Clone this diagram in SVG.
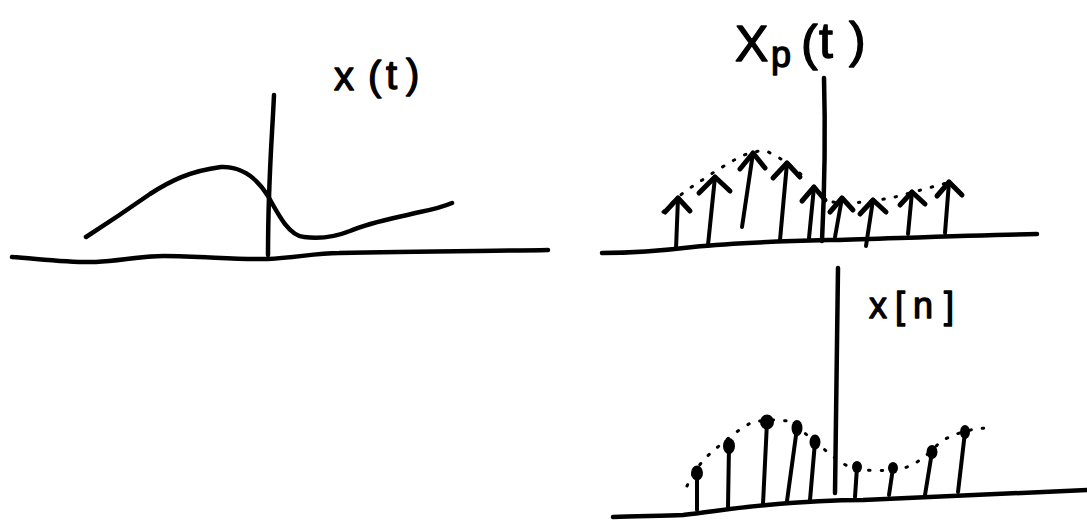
<svg xmlns="http://www.w3.org/2000/svg" width="1087" height="520" viewBox="0 0 1087 520">
<style>
.ink{fill:none;stroke:#000;stroke-linecap:round;stroke-linejoin:round}
.axis{stroke-width:4.5}
.sig{stroke-width:4.5}
.stem{stroke-width:4}
.head{stroke-width:5}
.env{stroke-width:3;stroke-dasharray:1.5 11}
.lbl{font-family:"Liberation Sans",Arial,sans-serif;fill:#000;stroke:#000;stroke-width:1.3;stroke-linejoin:round}
.blob{fill:#000}
</style>
<rect width="1087" height="520" fill="#fff"/>

<g id="continuous">
  <path class="ink axis" d="M12,257 C40,259 70,263 96,262 C120,261 140,256 164,256 C200,256 240,260 268,259 C295,258 315,253 339,253 C420,251 500,251 548,250"/>
  <path class="ink axis" d="M274,95 C272,140 268,180 268,255"/>
  <path class="ink sig" d="M86,237 C100,228 130,208 150,194 C170,181 190,171 221,167 C238,166 255,175 268,196 C280,218 290,236 304,237 C320,239 335,237 350,231 C370,222 395,218 420,212 C435,209 445,206 452,203"/>
  <text class="lbl" font-size="40"><tspan x="334" y="90">x</tspan><tspan x="368" y="90">(</tspan><tspan x="386" y="89">t</tspan><tspan x="406" y="88">)</tspan></text>
</g>

<g id="impulse-train">
  <path class="ink axis" d="M602,253 C630,253 660,251 693,247 C740,242 790,241 833,240 C900,238 980,235 1037,234"/>
  <path class="ink axis" d="M824,78 C826,150 824,200 822,241"/>
  <path class="ink env" d="M663,212 C675,200 685,190 695,185 C705,178 720,168 731,162 C742,155 755,150 766,151 C780,157 795,168 807,180"/>
  <path class="ink env" d="M833,202 C845,203 855,203 863,202 C875,201 885,199 895,197 C910,193 925,189 950,182"/>
  <g class="ink">
    <line class="stem" x1="676" y1="249" x2="678" y2="198"/>
    <polyline class="head" points="665,212 678,198 690,211"/>
    <line class="stem" x1="708" y1="245" x2="715" y2="177"/>
    <polyline class="head" points="699,193 715,177 730,191"/>
    <line class="stem" x1="742" y1="227" x2="753" y2="153"/>
    <polyline class="head" points="740,169 753,153 765,168"/>
    <line class="stem" x1="780" y1="240" x2="787" y2="163"/>
    <polyline class="head" points="773,178 787,163 800,177"/>
    <line class="stem" x1="809" y1="238" x2="814" y2="187"/>
    <polyline class="head" points="802,201 814,187 825,200"/>
    <line class="stem" x1="835" y1="237" x2="842" y2="198"/>
    <polyline class="head" points="830,212 842,198 853,210"/>
    <line class="stem" x1="866" y1="246" x2="873" y2="200"/>
    <polyline class="head" points="860,214 873,200 886,212"/>
    <line class="stem" x1="908" y1="234" x2="912" y2="192"/>
    <polyline class="head" points="900,205 912,192 925,204"/>
    <line class="stem" x1="945" y1="233" x2="949" y2="182"/>
    <polyline class="head" points="937,196 949,182 962,195"/>
  </g>
  <text class="lbl" font-size="50"><tspan x="735" y="61">X</tspan><tspan x="771" y="67" font-size="36">p</tspan><tspan x="801" y="60">(</tspan><tspan x="819" y="58">t</tspan><tspan x="849" y="57">)</tspan></text>
</g>

<g id="discrete">
  <path class="ink axis" d="M613,517 C640,516 665,516 683,515 C710,512 740,507 767,505 C800,502 830,500 863,500 C950,496 1030,493 1087,490"/>
  <path class="ink axis" d="M838,268 C837,350 836,430 835,493"/>
  <path class="ink env" d="M687,486 C692,475 700,462 713,451 C725,441 740,428 751,423 C765,419 778,420 788,421 C800,428 815,442 825,450 C835,458 845,467 857,469 C870,471 885,471 900,469 C915,466 928,455 940,442 C955,433 970,429 986,428"/>
  <g class="ink">
    <line class="stem" x1="697" y1="510" x2="697" y2="473"/>
    <line class="stem" x1="728" y1="507" x2="729" y2="446"/>
    <line class="stem" x1="763" y1="504" x2="767" y2="422"/>
    <line class="stem" x1="787" y1="501" x2="797" y2="428"/>
    <line class="stem" x1="810" y1="500" x2="815" y2="442"/>
    <line class="stem" x1="855" y1="497" x2="857" y2="467"/>
    <line class="stem" x1="889" y1="495" x2="893" y2="468"/>
    <line class="stem" x1="925" y1="495" x2="932" y2="452"/>
    <line class="stem" x1="958" y1="492" x2="965" y2="432"/>
  </g>
  <g class="blob">
    <ellipse cx="697" cy="473" rx="6" ry="7.5"/>
    <ellipse cx="729" cy="446" rx="6" ry="8"/>
    <ellipse cx="767" cy="422" rx="7" ry="7.5"/>
    <ellipse cx="797" cy="428" rx="5.5" ry="8"/>
    <ellipse cx="815" cy="442" rx="5.5" ry="7.5"/>
    <ellipse cx="857" cy="467" rx="5" ry="6"/>
    <ellipse cx="893" cy="468" rx="5" ry="6"/>
    <ellipse cx="932" cy="452" rx="5.5" ry="7"/>
    <ellipse cx="965" cy="432" rx="5" ry="7"/>
  </g>
  <text class="lbl" font-size="36"><tspan x="869" y="318">x</tspan><tspan x="895" y="318">[</tspan><tspan x="913" y="318">n</tspan><tspan x="944" y="318">]</tspan></text>
</g>
</svg>
